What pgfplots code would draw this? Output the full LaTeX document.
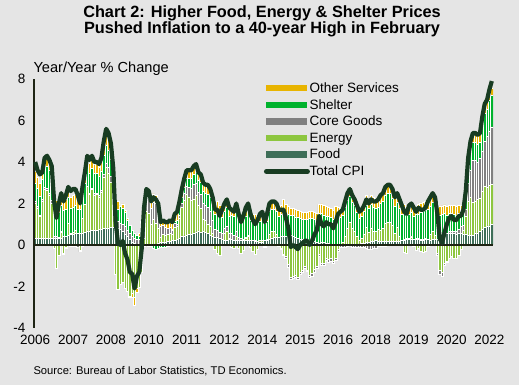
\documentclass[border=0pt]{standalone}
\usepackage{fontspec}
\setmainfont{Liberation Sans}
\usepackage{pgfplots}
\pgfplotsset{compat=1.18}
\usepackage{pgfplotstable}

\definecolor{bg}{RGB}{229,229,229}
\definecolor{cfood}{RGB}{62,110,88}
\definecolor{cenergy}{RGB}{141,198,63}
\definecolor{cgoods}{RGB}{128,128,128}
\definecolor{cshelter}{RGB}{0,178,45}
\definecolor{cother}{RGB}{232,180,0}
\definecolor{ccpi}{RGB}{24,60,34}
\definecolor{caxis}{RGB}{30,36,20}

\pgfplotstableread{
m F E G S O T
0 0.32 1.70 0.10 0.85 0.60 4.0
1 0.31 1.44 0.10 0.88 0.55 3.6
2 0.32 1.05 0.08 0.90 0.60 3.4
3 0.32 1.79 0.08 0.95 0.40 3.5
4 0.31 2.36 0.10 1.00 0.40 4.2
5 0.31 2.33 0.10 1.05 0.45 4.3
6 0.32 2.05 0.12 1.10 0.45 4.1
7 0.32 1.70 0.12 1.15 0.45 3.8
8 0.33 -0.18 0.10 1.20 0.50 2.1
9 0.33 -1.14 0.08 1.22 0.50 1.3
10 0.30 -0.50 0.05 1.22 0.55 2.0
11 0.30 0.29 0.05 1.25 0.50 2.5
12 0.40 -0.38 -0.05 1.28 0.50 2.1
13 0.43 -0.09 -0.05 1.28 0.50 2.4
14 0.45 0.59 -0.03 1.25 0.45 2.8
15 0.50 0.04 -0.05 1.25 0.50 2.6
16 0.52 0.09 -0.05 1.22 0.55 2.7
17 0.55 0.16 -0.08 1.20 0.55 2.7
18 0.56 -0.01 -0.08 1.18 0.50 2.4
19 0.57 -0.25 -0.08 1.15 0.45 2.0
20 0.58 0.71 -0.05 1.10 0.40 2.8
21 0.62 1.32 0.00 1.05 0.40 3.5
22 0.65 2.18 0.02 1.02 0.40 4.3
23 0.68 1.74 0.05 1.00 0.45 4.1
24 0.70 1.96 0.05 0.98 0.45 4.3
25 0.70 1.70 0.08 0.96 0.45 4.0
26 0.72 1.70 0.08 0.95 0.45 4.0
27 0.75 1.53 0.10 0.93 0.45 3.9
28 0.75 1.78 0.12 0.92 0.45 4.2
29 0.78 2.47 0.15 0.90 0.50 5.0
30 0.80 2.93 0.20 0.88 0.50 5.6
31 0.82 2.65 0.25 0.85 0.55 5.4
32 0.83 2.21 0.28 0.82 0.50 4.9
33 0.85 1.20 0.30 0.78 0.45 3.7
34 0.83 -1.40 0.30 0.65 0.30 1.1
35 0.80 -2.13 0.32 0.60 0.40 0.1
36 0.73 -1.92 0.32 0.83 0.04 0.0
37 0.64 -1.78 0.35 0.80 0.19 0.2
38 0.50 -2.07 0.40 0.67 0.10 -0.4
39 0.41 -2.21 0.30 0.50 0.07 -0.7
40 0.28 -2.46 0.28 0.40 -0.05 -1.3
41 0.15 -2.33 0.25 0.32 -0.20 -1.4
42 0.08 -2.53 0.25 0.25 -0.37 -2.1
43 0.00 -2.07 0.25 0.20 -0.20 -1.5
44 -0.04 -1.99 0.25 0.15 0.16 -1.3
45 -0.07 -1.26 0.57 0.16 0.40 -0.2
46 -0.08 0.33 1.05 0.10 0.40 1.8
47 -0.04 1.64 0.60 0.10 0.40 2.7
48 -0.05 1.54 0.71 0.00 0.40 2.6
49 -0.02 0.99 0.79 -0.06 0.40 2.1
50 0.02 1.21 0.83 -0.16 0.40 2.3
51 0.05 0.98 0.96 -0.19 0.40 2.2
52 0.10 0.71 0.95 -0.16 0.40 2.0
53 0.11 0.24 0.53 -0.13 0.35 1.1
54 0.13 0.38 0.44 -0.10 0.35 1.2
55 0.15 0.32 0.38 -0.10 0.35 1.1
56 0.17 0.32 0.32 -0.06 0.35 1.1
57 0.19 0.35 0.31 0.00 0.35 1.2
58 0.20 0.31 0.18 0.06 0.35 1.1
59 0.21 0.65 0.16 0.13 0.35 1.5
60 0.25 0.66 0.07 0.22 0.40 1.6
61 0.32 0.95 0.17 0.26 0.40 2.1
62 0.40 1.40 0.21 0.29 0.40 2.7
63 0.44 1.71 0.33 0.32 0.40 3.2
64 0.48 1.94 0.40 0.38 0.40 3.6
65 0.51 1.81 0.46 0.42 0.40 3.6
66 0.49 1.67 0.59 0.45 0.40 3.6
67 0.56 1.66 0.70 0.48 0.40 3.8
68 0.63 1.74 0.62 0.51 0.40 3.9
69 0.64 1.28 0.64 0.54 0.40 3.5
70 0.63 1.12 0.67 0.58 0.40 3.4
71 0.64 0.59 0.76 0.61 0.40 3.0
72 0.62 0.58 0.69 0.61 0.40 2.9
73 0.55 0.44 0.82 0.64 0.45 2.9
74 0.46 0.44 0.73 0.67 0.40 2.7
75 0.43 0.12 0.65 0.70 0.40 2.3
76 0.39 -0.20 0.36 0.75 0.40 1.7
77 0.38 -0.40 0.34 0.98 0.40 1.7
78 0.32 -0.51 0.29 0.90 0.40 1.4
79 0.28 -0.03 0.27 0.78 0.40 1.7
80 0.22 0.34 0.25 0.79 0.40 2.0
81 0.24 0.41 0.25 0.90 0.40 2.2
82 0.25 0.05 0.27 0.83 0.40 1.8
83 0.25 -0.12 0.29 0.88 0.40 1.7
84 0.22 -0.16 0.26 0.88 0.40 1.6
85 0.22 0.22 0.22 0.94 0.40 2.0
86 0.21 -0.16 0.14 0.91 0.40 1.5
87 0.21 -0.38 0.12 0.75 0.40 1.1
88 0.20 -0.26 0.06 1.00 0.40 1.4
89 0.20 0.12 0.06 1.02 0.40 1.8
90 0.20 0.22 0.04 1.14 0.40 2.0
91 0.20 -0.09 0.02 0.97 0.40 1.5
92 0.20 -0.29 0.00 0.89 0.40 1.2
93 0.18 -0.46 0.02 0.86 0.40 1.0
94 0.17 -0.23 0.00 0.86 0.40 1.2
95 0.15 0.05 -0.02 0.92 0.40 1.5
96 0.15 0.05 -0.02 1.02 0.40 1.6
97 0.20 -0.05 -0.04 0.86 0.35 1.1
98 0.24 0.05 -0.04 0.86 0.39 1.5
99 0.28 0.23 -0.04 1.13 0.40 2.0
100 0.34 0.30 -0.02 1.08 0.40 2.1
101 0.35 0.30 0.00 1.05 0.40 2.1
102 0.36 0.14 0.00 1.10 0.40 2.0
103 0.39 -0.06 -0.02 0.99 0.40 1.7
104 0.42 -0.15 -0.04 1.07 0.40 1.7
105 0.42 -0.43 -0.06 1.37 0.40 1.7
106 0.43 -0.54 -0.10 1.11 0.40 1.3
107 0.48 -0.95 -0.12 0.99 0.40 0.8
108 0.45 -1.57 -0.10 0.96 0.35 -0.1
109 0.42 -1.50 -0.12 0.99 0.35 0.0
110 0.36 -1.46 -0.10 0.99 0.35 -0.1
111 0.32 -1.55 -0.10 0.99 0.35 -0.2
112 0.27 -1.30 -0.12 0.99 0.35 0.0
113 0.25 -1.20 -0.12 0.99 0.35 0.1
114 0.22 -1.01 -0.12 1.02 0.35 0.2
115 0.22 -1.20 -0.08 1.02 0.35 0.2
116 0.20 -1.47 -0.10 1.06 0.35 0.0
117 0.20 -1.37 -0.12 1.06 0.35 0.2
118 0.18 -1.18 -0.12 1.06 0.35 0.5
119 0.11 -1.01 -0.12 1.06 0.35 0.7
120 0.10 -0.46 -0.10 1.41 0.45 1.4
121 0.11 -0.88 -0.10 1.42 0.45 1.0
122 0.11 -0.88 -0.12 1.34 0.45 0.9
123 0.10 -0.62 -0.12 1.29 0.45 1.1
124 0.10 -0.71 -0.12 1.28 0.45 1.0
125 0.04 -0.66 -0.12 1.29 0.45 1.0
126 0.03 -0.77 -0.12 1.21 0.45 0.8
127 0.02 -0.64 -0.08 1.37 0.45 1.1
128 0.02 -0.20 -0.10 1.36 0.45 1.5
129 0.02 0.01 -0.12 1.29 0.45 1.6
130 0.02 0.09 -0.12 1.32 0.45 1.7
131 0.02 0.38 -0.10 1.40 0.45 2.1
132 0.02 0.76 -0.08 1.38 0.45 2.5
133 0.02 1.06 -0.04 1.26 0.45 2.7
134 0.02 0.76 -0.10 1.29 0.45 2.4
135 0.03 0.65 -0.12 1.21 0.45 2.2
136 0.04 0.39 -0.12 1.15 0.45 1.9
137 0.05 0.16 -0.12 1.09 0.43 1.6
138 0.06 0.24 -0.10 1.09 0.42 1.7
139 0.08 0.45 -0.12 1.09 0.40 1.9
140 0.14 0.71 -0.18 1.08 0.45 2.2
141 0.14 0.45 -0.20 1.16 0.45 2.0
142 0.16 0.66 -0.20 1.13 0.45 2.2
143 0.18 0.48 -0.18 1.17 0.45 2.1
144 0.23 0.41 -0.14 1.15 0.45 2.1
145 0.19 0.58 -0.08 1.06 0.45 2.2
146 0.18 0.53 -0.06 1.30 0.45 2.4
147 0.19 0.59 -0.06 1.33 0.45 2.5
148 0.16 0.88 -0.06 1.37 0.45 2.8
149 0.19 0.90 -0.02 1.38 0.45 2.9
150 0.19 0.91 -0.02 1.37 0.45 2.9
151 0.19 0.77 0.00 1.29 0.45 2.7
152 0.19 0.36 0.02 1.28 0.45 2.3
153 0.16 0.67 0.04 1.18 0.45 2.5
154 0.19 0.23 0.00 1.33 0.45 2.2
155 0.22 -0.02 0.02 1.23 0.45 1.9
156 0.22 -0.37 0.06 1.24 0.45 1.6
157 0.27 -0.38 0.06 1.12 0.43 1.5
158 0.28 -0.03 0.04 1.16 0.45 1.9
159 0.26 0.13 0.02 1.14 0.45 2.0
160 0.27 -0.05 0.00 1.13 0.45 1.8
161 0.26 -0.26 0.04 1.16 0.40 1.6
162 0.26 -0.15 0.04 1.20 0.45 1.8
163 0.23 -0.33 0.02 1.33 0.45 1.7
164 0.24 -0.36 0.02 1.35 0.45 1.7
165 0.28 -0.32 0.02 1.37 0.45 1.8
166 0.27 -0.05 0.02 1.41 0.45 2.1
167 0.24 0.26 0.00 1.35 0.45 2.3
168 0.25 0.43 -0.02 1.39 0.45 2.5
169 0.25 0.20 -0.04 1.44 0.45 2.3
170 0.27 -0.40 -0.12 1.30 0.45 1.5
171 0.49 -1.24 -0.18 0.95 0.40 0.3
172 0.56 -1.32 -0.20 0.92 0.40 0.1
173 0.63 -0.88 -0.12 0.90 0.40 0.6
174 0.57 -0.78 -0.06 0.88 0.40 1.0
175 0.57 -0.63 0.08 0.86 0.40 1.3
176 0.55 -0.54 0.12 0.85 0.40 1.4
177 0.55 -0.64 0.12 0.82 0.40 1.2
178 0.52 -0.66 0.12 0.80 0.40 1.2
179 0.55 -0.49 0.18 0.78 0.40 1.4
180 0.55 -0.23 0.34 0.60 0.40 1.4
181 0.53 0.16 0.26 0.60 0.35 1.7
182 0.52 0.86 0.34 0.60 0.36 2.6
183 0.45 1.63 0.90 0.77 0.45 4.2
184 0.45 1.85 1.30 0.95 0.45 5.0
185 0.48 1.59 2.00 0.88 0.45 5.4
186 0.55 1.55 2.00 0.85 0.45 5.4
187 0.58 1.63 1.75 0.89 0.45 5.3
188 0.66 1.61 1.89 0.79 0.45 5.4
189 0.75 1.85 1.93 1.22 0.45 6.2
190 0.85 2.00 2.16 1.34 0.45 6.8
191 0.88 1.90 2.46 1.31 0.45 7.0
192 0.92 1.97 2.60 1.50 0.35 7.5
193 0.98 1.95 2.76 1.53 0.35 7.9
}\cpidata

\pgfplotsset{
  cpibase/.style={
    scale only axis, width=459pt, height=249pt,
    at={(0pt,0pt)}, anchor=south west,
    xmin=-0.5, xmax=193.5, ymin=-4, ymax=8,
  },
  barstack/.style={
    cpibase, hide axis, ybar stacked, bar width=1,
  },
  seg/.style={fill=#1, draw=white, line width=0.7pt},
}

\begin{document}
\begin{tikzpicture}
\path[use as bounding box, fill=bg] (-34pt,-57pt) rectangle (485pt,328pt);

% positive parts
\begin{axis}[barstack]
\addplot[seg=cfood] table[x=m, y expr={max(\thisrow{F},0)}]{\cpidata};
\addplot[seg=cenergy] table[x=m, y expr={max(\thisrow{E},0)}]{\cpidata};
\addplot[seg=cgoods] table[x=m, y expr={max(\thisrow{G},0)}]{\cpidata};
\addplot[seg=cshelter] table[x=m, y expr={max(\thisrow{S},0)}]{\cpidata};
\addplot[seg=cother] table[x=m, y expr={max(\thisrow{O},0)}]{\cpidata};
\end{axis}

% negative parts
\begin{axis}[barstack]
\addplot[seg=cfood] table[x=m, y expr={min(\thisrow{F},0)}]{\cpidata};
\addplot[seg=cenergy] table[x=m, y expr={min(\thisrow{E},0)}]{\cpidata};
\addplot[seg=cgoods] table[x=m, y expr={min(\thisrow{G},0)}]{\cpidata};
\addplot[seg=cshelter] table[x=m, y expr={min(\thisrow{S},0)}]{\cpidata};
\addplot[seg=cother] table[x=m, y expr={min(\thisrow{O},0)}]{\cpidata};
\end{axis}

% line, axes, legend
\begin{axis}[cpibase,
  clip=false,
  axis y line*=left, axis x line*=bottom,
  x axis line style={draw=none},
  y axis line style={caxis, line width=1.6pt, -},
  xtick={0,16,...,192},
  xticklabels={2006,2007,2008,2010,2011,2012,2014,2015,2016,2018,2019,2020,2022},
  ytick={-4,-2,...,8},
  major tick length=0pt,
  tick style={draw=none},
  /pgf/number format/assume math mode=true,
  ticklabel style={font=\fontsize{13.5}{13.5}\selectfont, text=black},
  yticklabel style={xshift=-5pt},
  xticklabel style={yshift=-4pt},
  extra y ticks={0},
  extra y tick labels={},
  extra y tick style={grid=major, major grid style={caxis, line width=1.6pt}},
  legend cell align=left,
  legend style={at={(axis description cs:0.4989,0.995)}, anchor=north west,
    draw=none, fill=none, inner sep=0pt,
    font=\fontsize{13.5}{13.5}\selectfont,
    row sep=1.5pt,
    /tikz/every odd column/.append style={column sep=-3pt}},
]
\addlegendimage{legend image code/.code={\draw[cother, line width=6.5pt] (0pt,0pt)--(41pt,0pt);}}
\addlegendentry{Other Services}
\addlegendimage{legend image code/.code={\draw[cshelter, line width=6.5pt] (0pt,0pt)--(41pt,0pt);}}
\addlegendentry{Shelter}
\addlegendimage{legend image code/.code={\draw[cgoods, line width=6.5pt] (0pt,0pt)--(41pt,0pt);}}
\addlegendentry{Core Goods}
\addlegendimage{legend image code/.code={\draw[cenergy, line width=6.5pt] (0pt,0pt)--(41pt,0pt);}}
\addlegendentry{Energy}
\addlegendimage{legend image code/.code={\draw[cfood, line width=6.5pt] (0pt,0pt)--(41pt,0pt);}}
\addlegendentry{Food}
\addlegendimage{legend image code/.code={\draw[ccpi, line width=5pt, line cap=round] (0pt,0pt)--(41pt,0pt);}}
\addlegendentry{Total CPI}
\addplot[ccpi, line width=4.2pt, line join=round, mark=none, forget plot] table[x=m, y=T]{\cpidata};
\end{axis}

\node[anchor=base, font=\bfseries\fontsize{16.3}{16.3}\selectfont, inner sep=0pt] at (228pt,310.4pt) {Chart 2: Higher Food, Energy \& Shelter Prices};
\node[anchor=base, font=\bfseries\fontsize{16.3}{16.3}\selectfont, inner sep=0pt] at (228pt,294.4pt) {Pushed Inflation to a 40-year High in February};
\node[anchor=base west, font=\fontsize{14.6}{14.6}\selectfont, inner sep=0pt] at (-0.7pt,255.7pt) {Year/Year \% Change};
\node[anchor=base west, font=\fontsize{11.2}{11.2}\selectfont, inner sep=0pt] at (-0.7pt,-47pt) {Source: Bureau of Labor Statistics, TD Economics.};
\end{tikzpicture}
\end{document}
